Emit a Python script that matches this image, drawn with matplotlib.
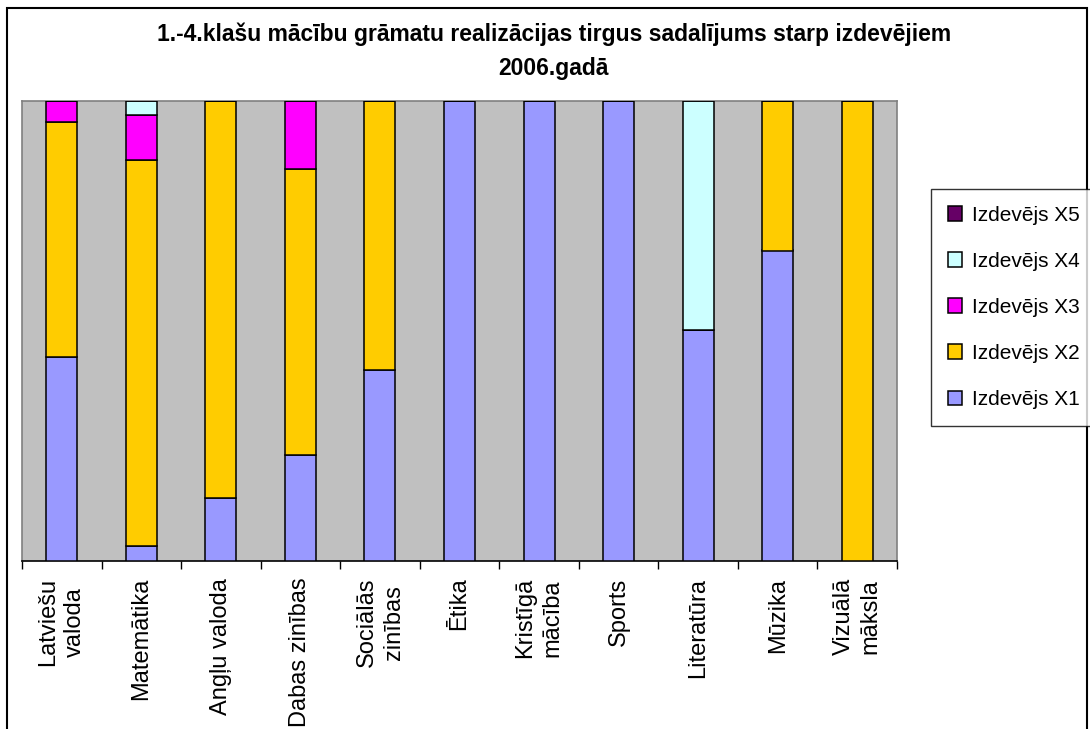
import matplotlib
matplotlib.use('Agg')
import matplotlib.pyplot as plt
from matplotlib.patches import Rectangle
import numpy as np

# ── DATA ──────────────────────────────────────────────────────────────────────
CATEGORIES = ['Latviešu\nvaloda', 'Matemātika', 'Angļu valoda', 'Dabas zinības',
              'Sociālās\nzinības', 'Ētika', 'Kristīgā\nmācība', 'Sports',
              'Literatūra', 'Mūzika', 'Vizuālā\nmāksla']
X1 = [44.3, 3.3, 13.8, 23.0, 41.5, 100, 100, 100, 50.2, 67.5, 0]
X2 = [51.1, 83.9, 86.2, 62.2, 58.5, 0, 0, 0, 0, 32.5, 100]
X3 = [4.6, 9.8, 0, 14.8, 0, 0, 0, 0, 0, 0, 0]
X4 = [0, 3.0, 0, 0, 0, 0, 0, 0, 49.8, 0, 0]
X5 = [0, 0, 0, 0, 0, 0, 0, 0, 0, 0, 0]
SERIES = ['Izdevējs X1', 'Izdevējs X2', 'Izdevējs X3', 'Izdevējs X4', 'Izdevējs X5']
COLORS = ['#9999FF', '#FFCC00', '#FF00FF', '#CCFFFF', '#660066']
TITLE = '1.-4.klašu mācību grāmatu realizācijas tirgus sadalījums starp izdevējiem\n2006.gadā'

plt.rcParams['font.family'] = ['Liberation Sans', 'DejaVu Sans']

# ── PLOT ──────────────────────────────────────────────────────────────────────
fig = plt.figure(figsize=(10.9, 7.29), dpi=100)
ax = fig.add_axes([22 / 1090, 1 - 561 / 729, 875 / 1090, 460 / 729])
ax.set_facecolor('#C0C0C0')

x = np.arange(len(CATEGORIES))
bottom = np.zeros(len(CATEGORIES))
handles = []
for name, vals, col in zip(SERIES, [X1, X2, X3, X4, X5], COLORS):
    vals = np.array(vals, dtype=float)
    bars = ax.bar(x, vals, width=0.39, bottom=bottom, color=col,
                  edgecolor='black', linewidth=1.1, label=name, zorder=3)
    handles.append(bars)
    bottom += vals

ax.set_xlim(-0.5, len(CATEGORIES) - 0.5)
ax.set_ylim(0, 100)
ax.set_yticks([])

# ticks between categories, labels at centers
ax.set_xticks(np.arange(len(CATEGORIES) + 1) - 0.5)
ax.set_xticklabels([])
ax.tick_params(axis='x', which='major', direction='out', length=6, width=1, color='black')
ax.set_xticks(x, minor=True)
ax.set_xticklabels(CATEGORIES, minor=True, rotation=90, fontsize=17,
                   va='top', ha='center', multialignment='center',
                   linespacing=1.3)
ax.tick_params(axis='x', which='minor', length=0, pad=12)

for side in ['left', 'top', 'right']:
    ax.spines[side].set_color('#808080')
    ax.spines[side].set_linewidth(1.2)
ax.spines['bottom'].set_color('black')
ax.spines['bottom'].set_linewidth(1.2)

fig.text(0.508, 1 - 51.5 / 729, TITLE, ha='center', va='center',
         fontsize=16.5, fontweight='bold', linespacing=1.6)

leg = fig.legend(handles[::-1], SERIES[::-1], loc='upper left',
                 bbox_to_anchor=(931 / 1090, 1 - 189 / 729),
                 fontsize=15, frameon=True, fancybox=False, shadow=False,
                 handlelength=0.68, handleheight=0.68, handletextpad=0.5,
                 labelspacing=1.3, borderpad=0.8, borderaxespad=0)
leg.get_frame().set_edgecolor('black')
leg.get_frame().set_linewidth(1.0)

# outer chart border
fig.patches.append(Rectangle((7 / 1090, -0.05), 1080 / 1090, 1.05 - 8 / 729,
                             transform=fig.transFigure, fill=False,
                             edgecolor='black', linewidth=1.5))

plt.savefig('out.png', dpi=100)
